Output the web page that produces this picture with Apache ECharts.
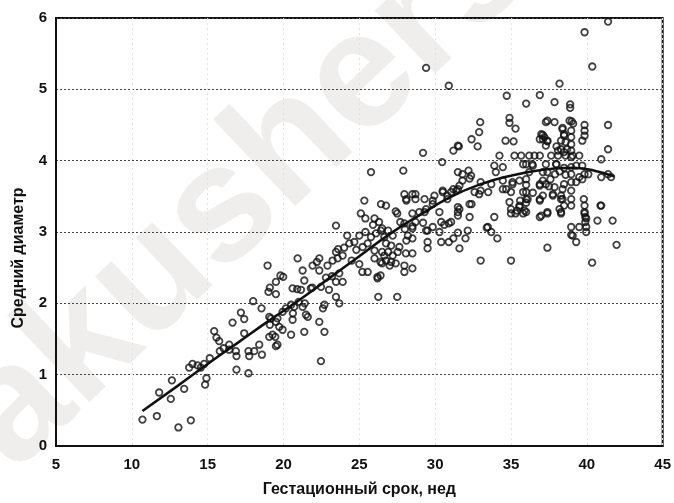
<!DOCTYPE html>
<html>
<head>
<meta charset="utf-8">
<script src="https://cdn.jsdelivr.net/npm/echarts@6/dist/echarts.min.js"></script>
<style>
  html, body { margin: 0; padding: 0; background: #fff; }
  #chart { width: 674px; height: 503px; }
</style>
</head>
<body>
<div id="chart"></div>
<script>
(function () {
  "use strict";
  const chart = echarts.init(document.getElementById("chart"));

  // подписи осей
  const X_NAME = "Гестационный срок, нед";
  const Y_NAME = "Средний диаметр";
  const X_RANGE = [5, 45];
  const Y_RANGE = [0, 6];

  const points = [
    // 10–15 нед
    [10.7, 0.37], [11.65, 0.42], [13.07, 0.26], [13.89, 0.36], [11.8, 0.75], [12.57, 0.66], [12.64, 0.92],
    [13.45, 0.8], [13.78, 1.1], [14.0, 1.15], [14.33, 1.13], [14.77, 1.15], [15.14, 1.23], [14.92, 0.95],
    [14.83, 0.86], [14.55, 1.1],
    // 15–20 нед
    [15.43, 1.61], [15.58, 1.52], [15.76, 1.47], [15.8, 1.33], [16.05, 1.37], [16.42, 1.35], [16.42, 1.42],
    [16.86, 1.33], [16.9, 1.26], [16.9, 1.07], [17.69, 1.02], [16.64, 1.73], [17.19, 1.87], [17.41, 1.78],
    [17.41, 1.58], [17.69, 1.33], [17.74, 1.26], [18.07, 1.33], [18.4, 1.42], [18.58, 1.28], [18.0, 2.03],
    [18.55, 1.93], [19.01, 2.16], [19.1, 2.22], [19.5, 2.13], [19.06, 1.81], [19.5, 1.74], [19.06, 1.53],
    [19.46, 1.53], [19.5, 1.4], [18.95, 2.53], [19.5, 2.3], [19.98, 2.37], [19.8, 2.39], [19.1, 1.7],
    [19.72, 1.67], [19.94, 1.63], [19.28, 1.56], [19.6, 1.42], [19.17, 1.79], [19.6, 1.79], [19.94, 1.88],
    // 20–24 нед
    [20.16, 1.93], [20.5, 1.98], [20.7, 1.95], [21.0, 2.02], [21.26, 1.95], [21.4, 2.0], [20.6, 1.77],
    [20.62, 1.86], [20.5, 1.56], [21.37, 1.6], [21.48, 1.84], [21.6, 1.81], [20.9, 2.2], [21.15, 2.19],
    [21.37, 2.32], [21.26, 2.46], [20.6, 2.21], [20.93, 2.63], [21.8, 2.21], [21.92, 2.53], [22.2, 2.58],
    [22.36, 2.63], [22.36, 2.46], [22.47, 2.23], [22.9, 2.53], [23.0, 2.19], [23.24, 2.6], [23.46, 2.72],
    [23.57, 2.63], [23.9, 2.67], [23.6, 2.76], [23.46, 2.3], [23.68, 2.42], [23.9, 2.3], [22.8, 2.36],
    [23.2, 2.38], [23.46, 2.09], [23.68, 2.0], [22.6, 1.93], [22.7, 1.98], [22.36, 1.74], [22.7, 1.6],
    [22.47, 1.19], [23.46, 3.09], [21.9, 2.22],
    // 24–28.5 нед
    [24.34, 2.84], [24.67, 2.86], [25.22, 2.79], [25.55, 2.84], [25.77, 2.93], [26.1, 2.98], [26.43, 3.02],
    [26.0, 2.74], [26.5, 2.72], [26.0, 2.63], [26.76, 2.6], [27.2, 2.67], [26.76, 2.84], [25.2, 2.44],
    [25.55, 2.44], [26.2, 2.35], [26.25, 2.09], [27.5, 2.09], [25.77, 3.84], [27.9, 3.86], [25.33, 3.44],
    [26.43, 3.39], [26.76, 3.37], [27.4, 3.29], [27.97, 3.53], [28.1, 3.46], [28.5, 3.53], [28.7, 3.53],
    [25.1, 3.26], [25.4, 3.19], [26.0, 3.19], [26.3, 3.14], [26.5, 3.05], [27.7, 3.14], [28.5, 3.26],
    [28.7, 3.14], [28.5, 3.05], [28.2, 2.95], [28.5, 2.91], [28.5, 2.7], [28.5, 2.49], [27.97, 2.44],
    [27.97, 2.53], [27.4, 2.56], [26.9, 2.72], [26.5, 2.56], [27.0, 2.53], [26.2, 2.37], [24.0, 2.78],
    [24.2, 2.95], [24.8, 2.75], [25.0, 2.95], [25.4, 3.0], [25.9, 3.1], [26.9, 3.02], [27.2, 2.95],
    [27.1, 2.81], [27.64, 2.79], [28.07, 2.7], [27.53, 2.72], [26.65, 2.67], [27.1, 2.58], [26.4, 2.58],
    [26.65, 2.93], [26.4, 2.39], [27.5, 3.26], [28.0, 3.04], [28.5, 3.08], [28.1, 2.88], [28.1, 3.44],
    [27.97, 3.12], [24.5, 2.6], [25.0, 2.55],
    // 28.5–33 нед
    [29.4, 5.3], [30.9, 5.05], [29.2, 4.11], [30.46, 3.98], [28.7, 3.46], [29.3, 3.46], [28.96, 3.28],
    [29.4, 3.32], [29.84, 3.44], [29.95, 3.51], [30.5, 3.58], [30.8, 3.51], [31.2, 3.6], [30.5, 3.56],
    [31.05, 3.56], [29.84, 3.39], [29.3, 3.28], [30.28, 3.28], [30.8, 3.46], [31.5, 3.35], [32.27, 3.39],
    [29.5, 3.02], [29.84, 3.07], [30.4, 3.14], [30.9, 3.12], [29.5, 2.86], [29.5, 2.77], [30.4, 2.86],
    [30.9, 2.86], [31.2, 2.91], [32.0, 2.91], [31.6, 2.77], [31.5, 3.28], [32.4, 3.39], [32.27, 3.21],
    [31.05, 3.14], [30.6, 3.1], [30.28, 3.0], [31.5, 2.99], [32.15, 3.02], [29.2, 3.13], [29.4, 3.02],
    [31.6, 3.32], [31.5, 3.23], [32.97, 4.54], [32.9, 4.4], [32.4, 4.3], [32.8, 4.2], [31.56, 4.2],
    [31.2, 4.14], [31.5, 4.21], [32.2, 3.86], [32.27, 3.75], [31.8, 3.81], [31.8, 3.72], [31.6, 3.65],
    [31.4, 3.58], [31.5, 3.84], [32.37, 3.79], [31.5, 3.6], [33.0, 2.6],
    // 33–37 нед
    [33.0, 3.7], [33.7, 3.67], [33.5, 3.56], [33.0, 3.58], [32.9, 3.53], [32.6, 3.56], [33.47, 3.07],
    [33.7, 3.0], [34.1, 2.91], [33.9, 3.21], [33.4, 3.06], [34.72, 4.91], [36.0, 4.8], [36.9, 4.92],
    [34.9, 4.6], [34.9, 4.53], [35.3, 4.45], [37.4, 4.56], [34.64, 4.28], [35.17, 4.27], [36.9, 4.3],
    [37.1, 4.36], [34.24, 4.07], [35.23, 4.07], [35.67, 4.07], [36.2, 4.07], [36.55, 4.07], [37.65, 4.07],
    [38.1, 4.07], [38.6, 4.07], [39.07, 4.07], [39.5, 4.07], [33.9, 3.93], [34.46, 3.91], [34.0, 3.84],
    [35.8, 3.95], [36.0, 3.95], [36.4, 3.95], [37.3, 3.95], [37.97, 3.95], [36.44, 3.93], [36.2, 3.84],
    [34.46, 3.72], [35.1, 3.7], [36.0, 3.74], [36.9, 3.65], [34.46, 3.6], [35.0, 3.56], [36.0, 3.56],
    [36.9, 3.46], [34.68, 3.6], [35.1, 3.67], [35.56, 3.72], [36.0, 3.66], [35.8, 3.56], [36.0, 3.46],
    [36.44, 3.55], [36.9, 3.67], [37.1, 3.51], [37.5, 3.64], [37.76, 3.51], [38.3, 3.46], [34.9, 3.42],
    [35.56, 3.35], [36.0, 3.41], [35.0, 3.26], [36.0, 3.28], [36.9, 3.21], [35.0, 3.32], [35.56, 3.37],
    [35.3, 3.26], [35.8, 3.26], [37.4, 3.26], [38.3, 3.26], [35.0, 2.6], [35.4, 3.3], [35.6, 3.44],
    [35.9, 3.3], [36.1, 3.46],
    // 37–42 нед
    [36.9, 3.44], [37.4, 3.28], [37.4, 2.78], [38.3, 3.28], [38.97, 3.07], [38.97, 2.96], [39.3, 2.86],
    [39.5, 3.07], [39.96, 3.07], [39.96, 3.0], [39.85, 3.26], [39.96, 3.19], [40.35, 2.57], [40.9, 3.37],
    [40.7, 3.16], [41.7, 3.16], [41.96, 2.82], [40.36, 5.32], [38.2, 5.08], [37.87, 4.82], [38.9, 4.79],
    [38.9, 4.74], [41.4, 4.5], [37.3, 4.54], [37.87, 4.54], [39.0, 4.55], [39.85, 4.5], [39.85, 4.42],
    [39.85, 4.35], [39.7, 4.28], [38.4, 4.46], [38.5, 4.37], [38.97, 4.42], [38.97, 4.33], [38.97, 4.23],
    [38.97, 4.14], [38.97, 4.05], [37.0, 4.37], [37.2, 4.33], [37.3, 4.21], [37.4, 4.28], [38.0, 4.2],
    [38.1, 4.14], [38.3, 4.16], [38.5, 4.12], [38.7, 4.16], [41.4, 4.16], [40.95, 4.02], [36.9, 4.07],
    [37.1, 3.84], [37.4, 3.84], [37.9, 3.81], [37.6, 3.74], [37.1, 3.72], [37.3, 3.67], [37.87, 3.63],
    [37.76, 3.53], [38.3, 3.51], [38.4, 3.6], [38.5, 3.67], [38.97, 3.91], [38.97, 3.81], [38.97, 3.7],
    [38.97, 3.58], [38.97, 3.46], [38.97, 3.37], [39.7, 3.93], [39.85, 3.81], [39.5, 3.77], [39.7, 3.74],
    [40.1, 3.81], [40.95, 3.77], [41.6, 3.77], [41.4, 3.81], [37.0, 3.23], [38.2, 3.32], [38.5, 3.37],
    [38.4, 3.46], [39.8, 3.46], [39.85, 3.37], [39.85, 3.28], [39.9, 3.21], [39.9, 3.14], [40.95, 3.37],
    [39.07, 2.95], [41.4, 5.95], [39.85, 5.8], [38.86, 4.56], [39.1, 4.52], [38.4, 4.44], [38.5, 4.35],
    [38.3, 4.28], [38.6, 4.26], [37.1, 4.3], [37.4, 4.27], [38.0, 3.95], [38.5, 3.9], [39.3, 3.93],
    [38.2, 3.85], [38.6, 3.8], [39.3, 3.7]
  ];

  // линия регрессии, точки сняты вдоль кривой
  const fitCurve = [
    [10.7, 0.49], [13, 0.84], [15, 1.15], [17, 1.45], [19, 1.75], [21, 2.04], [23, 2.35], [25, 2.66],
    [27, 2.97], [29, 3.24], [31, 3.49], [33, 3.67], [35, 3.79], [37, 3.87], [39, 3.9], [40.5, 3.86], [41.8, 3.78]
  ];

  const FONT = "'Liberation Sans', Arial, sans-serif";
  const labelStyle = { color: "#111", fontFamily: FONT, fontWeight: "bold", fontSize: 15 };

  chart.setOption({
    animation: false,
    backgroundColor: "#fff",
    graphic: [
      {
        // водяной знак на скане
        type: "text", z: -10, x: 40, y: 500, rotation: 0.76,
        style: { text: "akusherstvo", fill: "rgba(205,195,195,0.3)", font: "bold 165px " + FONT, textVerticalAlign: "bottom" }
      },
      {
        type: "text", x: 19, y: 258, rotation: Math.PI / 2,
        style: { text: Y_NAME, fill: "#111", font: "bold 16px " + FONT, textAlign: "center", textVerticalAlign: "middle" }
      }
    ],
    grid: { left: 56, right: 11, top: 18, bottom: 55, show: true, borderColor: "#111", borderWidth: 2 },
    xAxis: {
      type: "value", min: X_RANGE[0], max: X_RANGE[1], interval: 5,
      name: X_NAME, nameLocation: "middle", nameGap: 36,
      nameTextStyle: { color: "#111", fontFamily: FONT, fontWeight: "bold", fontSize: 16 },
      axisLine: { show: true, lineStyle: { color: "#111", width: 2 } },
      axisTick: { show: false },
      axisLabel: Object.assign({ margin: 11 }, labelStyle),
      splitLine: { show: true, lineStyle: { color: "#e2e2e2", type: [2, 3], width: 1 } }
    },
    yAxis: {
      type: "value", min: Y_RANGE[0], max: Y_RANGE[1], interval: 1,
      axisLine: { show: true, lineStyle: { color: "#111", width: 2 } },
      axisTick: { show: false },
      axisLabel: Object.assign({ margin: 9 }, labelStyle),
      splitLine: { show: true, lineStyle: { color: "#444", type: [2, 2], width: 1 } }
    },
    series: [
      {
        type: "scatter", data: points, symbol: "circle", symbolSize: 6.5,
        itemStyle: { color: "rgba(0,0,0,0)", borderColor: "#111", borderWidth: 1.8 },
        z: 2
      },
      {
        type: "line", data: fitCurve, smooth: true, showSymbol: false,
        lineStyle: { color: "#111", width: 2.6 }, z: 3
      }
    ]
  });

  window.addEventListener("resize", () => chart.resize());
})();
</script>
</body>
</html>
